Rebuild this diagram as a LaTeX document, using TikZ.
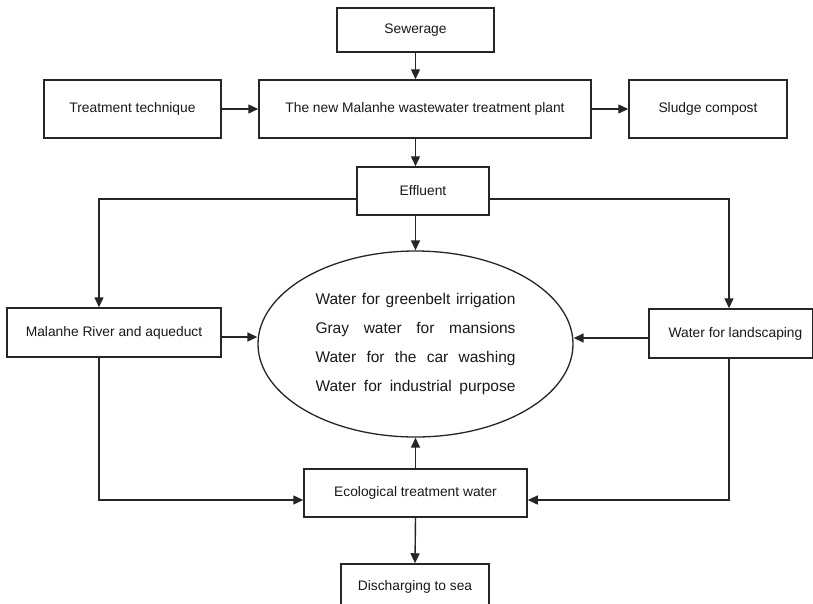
\documentclass[tikz,border=0pt]{standalone}
\usepackage{fontspec}
\setmainfont{Liberation Sans}
\usetikzlibrary{arrows.meta,shapes.geometric}
\begin{document}
\begin{tikzpicture}[x=1pt,y=-1pt,
  box/.style={draw=black!85, line width=1.5pt, inner sep=0pt, font=\fontsize{13.8}{16}\selectfont, text=black!90},
  arr/.style={draw=black!85, line width=1.4pt, -{Triangle[length=10pt,width=9pt]}},
  lnk/.style={draw=black!85, line width=1.4pt}]
\fill[white] (0,0) rectangle (813,603);
\useasboundingbox (0,0) rectangle (813,603);
% nodes
\node[box, minimum width=157pt, minimum height=44pt] (sew) at (415.5,30) {Sewerage};
\node[box, minimum width=177pt, minimum height=58pt] (tech) at (132.5,109) {Treatment technique};
\node[box, minimum width=332pt, minimum height=58pt] (plant) at (425,109) {The new Malanhe wastewater treatment plant};
\node[box, minimum width=158pt, minimum height=58pt] (sludge) at (708,109) {Sludge compost};
\node[box, minimum width=132pt, minimum height=48pt] (eff) at (423,191) {Effluent};
\node[box, minimum width=214pt, minimum height=49pt] (mal) at (114,332.5) {Malanhe River and aqueduct};
\node[box, minimum width=164pt, minimum height=49pt] (land) at (731,333.5) {\hspace{9pt}Water for landscaping};
\node[draw=black!85, line width=1.3pt, ellipse, inner sep=0pt, minimum width=315pt, minimum height=186pt,
      align=center, text=black!90, font=\fontsize{15.5}{29.3}\selectfont] (ell) at (415.5,344)
  {\makebox[200pt][s]{Water for greenbelt irrigation}\\
   \makebox[200pt][s]{Gray water for mansions}\\
   \makebox[200pt][s]{Water for the car washing}\\
   \makebox[200pt][s]{Water for industrial purpose}};
\node[box, minimum width=223pt, minimum height=48pt] (eco) at (415.5,493) {Ecological treatment water};
\node[box, minimum width=148pt, minimum height=46pt] (dis) at (415,587) {Discharging to sea};
% helper coordinates
\coordinate (lv) at (99,199);
\coordinate (rv) at (729,199);
\coordinate (my) at (0,337);
\coordinate (ry) at (0,338);
\coordinate (by) at (0,500);
% connectors
\draw[arr] (sew.south) -- (sew.south |- plant.north);
\draw[arr] (tech.east) -- (plant.west);
\draw[arr] (plant.east) -- (sludge.west);
\draw[arr] (plant.south -| sew.south) -- (eff.north -| sew.south);
\draw[arr] (eff.south -| sew.south) -- (ell.north);
\draw[arr] (eff.west |- lv) -- (lv) -- (lv |- mal.north);
\draw[arr] (eff.east |- rv) -- (rv) -- (rv |- land.north);
\draw[arr] (mal.east |- my) -- (ell.west |- my);
\draw[arr] (land.west |- ry) -- (ell.east |- ry);
\draw[arr] (eco.north) -- (ell.south);
\draw[arr] (lv |- mal.south) |- (eco.west |- by);
\draw[arr] (rv |- land.south) |- (eco.east |- by);
\draw[arr] (eco.south) -- (dis.north);
\end{tikzpicture}
\end{document}
